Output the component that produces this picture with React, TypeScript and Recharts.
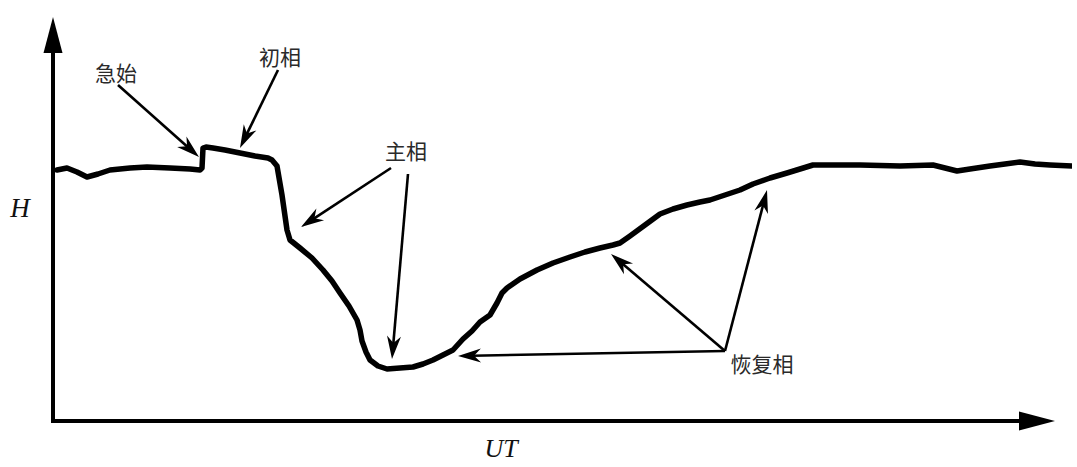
import { LineChart, Line, XAxis, YAxis, ReferenceLine, ReferenceDot } from 'recharts'

// UT position and H value
const utValues = [
  4, 14, 24, 34, 45, 57, 77, 94, 117, 137, 147, 149, 150, 153, 160, 172, 187, 202, 215, 219,
  224, 229, 234, 237, 247, 259, 270, 279, 287, 296, 304, 307, 309, 313, 317, 325, 334, 347, 360, 370,
  380, 390, 400, 410, 419, 427, 437, 444, 449, 454, 467, 484, 500, 517, 532, 547, 560, 567, 577, 592,
  607, 620, 634, 647, 657, 672, 687, 700, 717, 734, 747, 760, 777, 807, 847, 880, 892, 904, 917, 937,
  952, 967, 982, 997, 1019,
]
const hValues = [
  251, 253, 249, 244, 247, 251, 253, 254, 253, 252, 251, 253, 273, 274, 273, 271, 268, 265, 263, 261,
  255, 226, 191, 181, 173, 163, 151, 140, 128, 115, 101, 91, 80, 69, 61, 55, 52, 53, 54, 57,
  61, 66, 71, 82, 90, 99, 106, 118, 128, 133, 142, 151, 158, 164, 169, 173, 176, 178, 185, 196,
  207, 212, 216, 219, 221, 226, 231, 237, 243, 248, 252, 256, 256, 256, 255, 256, 253, 250, 252, 255,
  257, 259, 257, 256, 255,
]

// phase labels: text, and where the label sits (ut, h)
const labelTexts = ['急始', '初相', '主相', '恢复相']
const labelUt = [63, 227, 353, 709]
const labelH = [349, 365, 271, 58]

// annotation arrows: start (ut, h) -> tip (ut, h)
const arrowFromUt = [65, 225, 338, 355, 672, 672, 672]
const arrowFromH = [336, 351, 253, 247, 70, 70, 70]
const arrowToUt = [146, 187, 248, 339, 405, 558, 714]
const arrowToH = [264, 273, 194, 62, 65, 167, 231]

const X_MAX = 1019
const Y_MAX = 404
const X_AXIS_TIP = 1002

const data = utValues.map((t, i) => ({ t, h: hValues[i] }))

function arrowHead(x1: number, y1: number, x2: number, y2: number, len: number, half: number, notch: number) {
  const a = Math.atan2(y2 - y1, x2 - x1)
  const c = Math.cos(a)
  const s = Math.sin(a)
  const pt = (back: number, side: number) =>
    `${x2 - back * c - side * s},${y2 - back * s + side * c}`
  return [pt(0, 0), pt(len, half), pt(notch, 0), pt(len, -half)].join(' ')
}

// eslint-disable-next-line @typescript-eslint/no-explicit-any
function ThinArrow(p: any) {
  const { x1, y1, x2, y2 } = p
  const a = Math.atan2(y2 - y1, x2 - x1)
  return (
    <g>
      <line
        x1={x1}
        y1={y1}
        x2={x2 - 14 * Math.cos(a)}
        y2={y2 - 14 * Math.sin(a)}
        stroke="#000"
        strokeWidth={2.6}
      />
      <polygon points={arrowHead(x1, y1, x2, y2, 23, 7, 16)} fill="#000" />
    </g>
  )
}

// eslint-disable-next-line @typescript-eslint/no-explicit-any
function AxisArrow(p: any) {
  const { x1, y1, x2, y2 } = p
  const a = Math.atan2(y2 - y1, x2 - x1)
  return (
    <g>
      <line
        x1={x1}
        y1={y1}
        x2={x2 - 30 * Math.cos(a)}
        y2={y2 - 30 * Math.sin(a)}
        stroke="#000"
        strokeWidth={4}
        strokeLinecap="square"
      />
      <polygon points={arrowHead(x1, y1, x2, y2, 36, 9.5, 36)} fill="#000" />
    </g>
  )
}

function textShape(text: string, italic: boolean, size: number) {
  // eslint-disable-next-line @typescript-eslint/no-explicit-any
  return (p: any) => (
    <text
      x={p.cx}
      y={p.cy}
      textAnchor="middle"
      dominantBaseline="central"
      fontSize={size}
      fontStyle={italic ? 'italic' : 'normal'}
      fontFamily={italic ? '"Liberation Serif", "DejaVu Serif", serif' : '"Noto Sans CJK SC", "Noto Sans", sans-serif'}
      fill={italic ? '#111' : '#2a2a2a'}
    >
      {text}
    </text>
  )
}

export default function App() {
  return (
    <div style={{ position: 'absolute', left: 0, top: 0, width: 1077, height: 467, background: '#fff' }}>
      <LineChart width={1077} height={467} data={data} margin={{ top: 17, right: 5, bottom: 46, left: 53 }}>
        <XAxis dataKey="t" type="number" domain={[0, X_MAX]} hide allowDataOverflow />
        <YAxis type="number" domain={[0, Y_MAX]} hide allowDataOverflow />

        {/* axes with arrow heads */}
        <ReferenceLine
          segment={[{ x: 0, y: 0 }, { x: 0, y: Y_MAX }]}
          ifOverflow="visible"
          shape={AxisArrow}
        />
        <ReferenceLine
          segment={[{ x: 0, y: 0 }, { x: X_AXIS_TIP, y: 0 }]}
          ifOverflow="visible"
          shape={AxisArrow}
        />

        <Line
          type="linear"
          dataKey="h"
          stroke="#000"
          strokeWidth={5.5}
          strokeLinejoin="round"
          strokeLinecap="round"
          dot={false}
          activeDot={false}
          isAnimationActive={false}
        />

        {arrowFromUt.map((fx, i) => (
          <ReferenceLine
            key={`arrow-${i}`}
            segment={[{ x: fx, y: arrowFromH[i] }, { x: arrowToUt[i], y: arrowToH[i] }]}
            ifOverflow="visible"
            shape={ThinArrow}
          />
        ))}

        {labelTexts.map((txt, i) => (
          <ReferenceDot
            key={`label-${i}`}
            x={labelUt[i]}
            y={labelH[i]}
            r={0}
            ifOverflow="visible"
            shape={textShape(txt, false, 21)}
          />
        ))}

        {/* axis names */}
        <ReferenceDot x={-33} y={213} r={0} ifOverflow="visible" shape={textShape('H', true, 27)} />
        <ReferenceDot x={448} y={-27} r={0} ifOverflow="visible" shape={textShape('UT', true, 26)} />
      </LineChart>
    </div>
  )
}
